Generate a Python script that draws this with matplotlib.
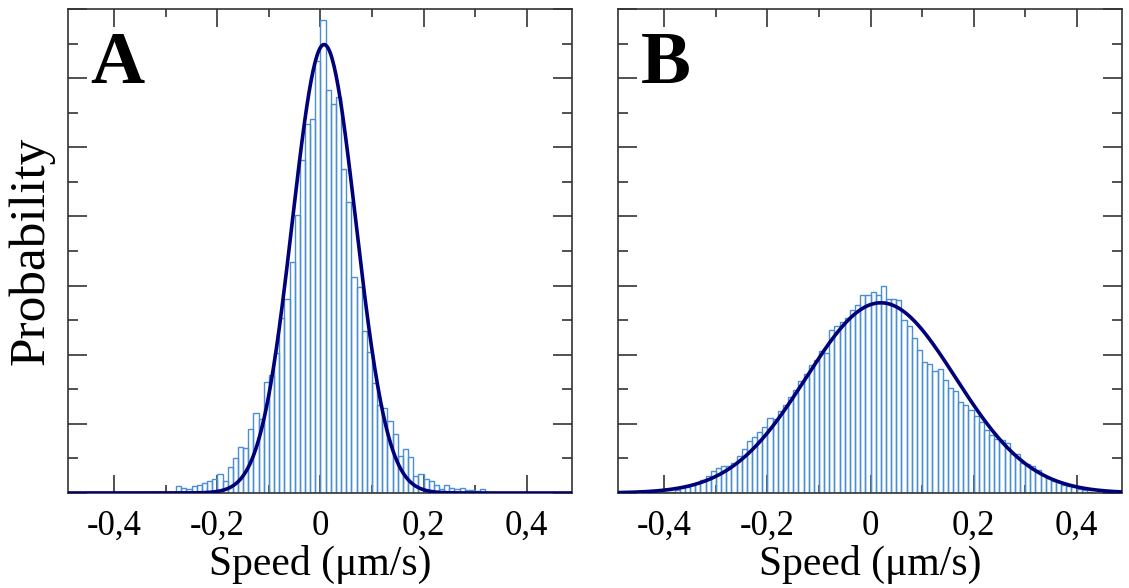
import matplotlib
matplotlib.use("Agg")
import matplotlib.pyplot as plt
import numpy as np
from matplotlib.ticker import MultipleLocator, FuncFormatter

# histogram bins are 0.01 um/s wide, values are probability density
bin_width = 0.01

# panel A: lower edges from -0.33 to 0.32
bins_a = np.round(np.arange(-33, 33) * bin_width, 2)
hist_a = [0.02, 0.02, 0.0, 0.0, 0.0, 0.10, 0.07, 0.06, 0.10, 0.12,
          0.15, 0.17, 0.20, 0.28, 0.18, 0.37, 0.50, 0.66, 0.65, 0.92,
          1.15, 1.07, 1.61, 1.71, 2.02, 2.53, 2.81, 3.34, 4.02, 4.82,
          5.34, 5.41, 6.25, 6.84, 5.83, 5.63, 5.73, 4.69, 4.21, 3.13,
          2.98, 2.35, 2.04, 1.59, 1.27, 1.23, 1.04, 0.85, 0.54, 0.64,
          0.52, 0.25, 0.27, 0.20, 0.18, 0.12, 0.06, 0.11, 0.07, 0.06,
          0.07, 0.05, 0.04, 0.03, 0.06, 0.02]

# panel B: lower edges from -0.44 to 0.42
bins_b = np.round(np.arange(-44, 43) * bin_width, 2)
hist_b = [0.01, 0.01, 0.01, 0.01, 0.02, 0.02, 0.05, 0.07, 0.09, 0.12,
          0.15, 0.19, 0.24, 0.32, 0.36, 0.385, 0.39, 0.43, 0.53, 0.635,
          0.745, 0.81, 0.875, 0.96, 1.08, 1.07, 1.19, 1.27, 1.39, 1.49,
          1.62, 1.72, 1.85, 1.92, 2.05, 2.02, 2.36, 2.41, 2.48, 2.53,
          2.65, 2.72, 2.87, 2.87, 2.91, 2.87, 2.99, 2.80, 2.81, 2.79,
          2.50, 2.41, 2.24, 2.07, 1.89, 1.87, 1.76, 1.80, 1.64, 1.52,
          1.48, 1.32, 1.27, 1.20, 1.11, 1.03, 0.91, 0.84, 0.78, 0.77,
          0.72, 0.56, 0.56, 0.43, 0.42, 0.39, 0.33, 0.26, 0.22, 0.18,
          0.16, 0.12, 0.10, 0.08, 0.06, 0.05, 0.02]

# gaussian fits (mean, sigma)
fit_a = (0.007, 0.0615)
fit_b = (0.020, 0.145)

panel_labels = ["A", "B"]
xticks = [-0.4, -0.2, 0, 0.2, 0.4]

hist_color = "#4a8fd4"
fit_color = "#00007a"
frame_color = "#333333"

plt.rcParams["font.family"] = ["Liberation Serif", "DejaVu Serif"]

fig = plt.figure(figsize=(11.29, 5.88), dpi=100)
ax_a = fig.add_axes([0.0602, 0.1616, 0.4464, 0.823])
ax_b = fig.add_axes([0.5474, 0.1616, 0.4464, 0.823])


def comma_fmt(v, pos):
    if abs(v) < 1e-9:
        return "0"
    return ("%g" % v).replace(".", ",")


def gauss(x, mu, sigma):
    return np.exp(-0.5 * ((x - mu) / sigma) ** 2) / (sigma * np.sqrt(2 * np.pi))


xs = np.linspace(-0.49, 0.49, 500)

for ax, bins, hist, fit, lab in [(ax_a, bins_a, hist_a, fit_a, panel_labels[0]),
                                 (ax_b, bins_b, hist_b, fit_b, panel_labels[1])]:
    ax.bar(bins, hist, width=bin_width, align="edge", fill=False,
           edgecolor=hist_color, linewidth=1.0, zorder=2)
    ax.plot(xs, gauss(xs, *fit), color=fit_color, linewidth=2.6, zorder=3)

    ax.set_xlim(-0.49, 0.488)
    ax.set_ylim(0, 7)
    ax.xaxis.set_minor_locator(MultipleLocator(0.1))
    ax.yaxis.set_major_locator(MultipleLocator(1))
    ax.yaxis.set_minor_locator(MultipleLocator(0.5))
    ax.set_xticks(xticks)
    ax.xaxis.set_major_formatter(FuncFormatter(comma_fmt))
    ax.tick_params(axis="both", which="both", direction="in",
                   top=True, right=True, color=frame_color, width=1.2)
    ax.tick_params(axis="x", which="major", length=13, labelsize=25, pad=12)
    ax.tick_params(axis="x", which="minor", length=6)
    ax.tick_params(axis="y", which="major", length=14, labelleft=False)
    ax.tick_params(axis="y", which="minor", length=7)
    for sp in ax.spines.values():
        sp.set_color(frame_color)
        sp.set_linewidth(1.2)

    ax.set_xlabel("Speed (\u03bcm/s)", fontsize=30, labelpad=2)
    ax.text(0.045, 0.955, lab, transform=ax.transAxes, fontsize=54,
            fontweight="bold", va="top", ha="left")

ax_a.set_ylabel("Probability", fontsize=37, labelpad=6)

fig.savefig("out.png", dpi=100)
